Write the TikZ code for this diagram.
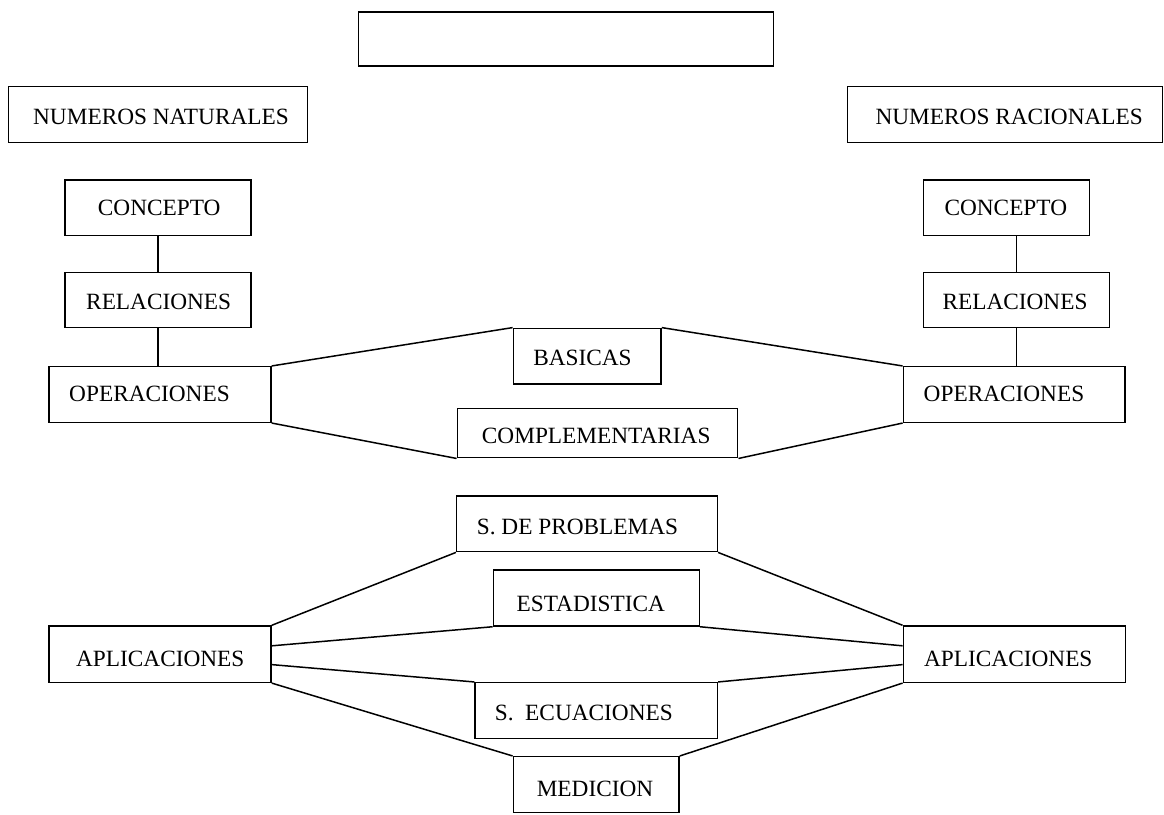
\documentclass[tikz,border=0pt]{standalone}
\usepackage{fontspec}
\setmainfont{Liberation Serif}
\usetikzlibrary{calc}
\tikzset{
  box/.style={draw, rectangle, line width=1.5pt, inner sep=0pt},
  lbl/.style={anchor=base, inner sep=0pt, font=\fontsize{23.3}{28}\selectfont},
  link/.style={line width=1.5pt}
}
\begin{document}
\begin{tikzpicture}[x=1pt, y=-1pt]
  \useasboundingbox (0,0) rectangle (1164,814);
  % title box (left blank)
  \node[box, minimum width=414.6, minimum height=54] (top) at (566,39) {};
  % column headings
  \node[box, minimum width=299, minimum height=55.6] (nn) at (158.2,114.5) {};
  \node[lbl] (nn-t) at (161,124.5) {NUMEROS NATURALES};
  \node[box, minimum width=315, minimum height=55.6] (nr) at (1004.8,114.5) {};
  \node[lbl] (nr-t) at (1009.2,124.5) {NUMEROS RACIONALES};
  % natural numbers column
  \node[box, minimum width=186, minimum height=55.7] (cL) at (158,207.8) {};
  \node[lbl] (cL-t) at (159.2,215.4) {CONCEPTO};
  \node[box, minimum width=186, minimum height=55.4] (rL) at (158,300) {};
  \node[lbl] (rL-t) at (158.7,309.4) {RELACIONES};
  \node[box, minimum width=222, minimum height=55.6] (oL) at (160,394.5) {};
  \node[lbl] (oL-t) at (149.5,401.7) {OPERACIONES};
  % rational numbers column
  \node[box, minimum width=166, minimum height=55.7] (cR) at (1006.3,207.8) {};
  \node[lbl] (cR-t) at (1005.8,215.4) {CONCEPTO};
  \node[box, minimum width=186, minimum height=55.4] (rR) at (1016.3,300) {};
  \node[lbl] (rR-t) at (1015,309.4) {RELACIONES};
  \node[box, minimum width=221.7, minimum height=55.6] (oR) at (1014.2,394.5) {};
  \node[lbl] (oR-t) at (1004,401.7) {OPERACIONES};
  % kinds of operations
  \node[box, minimum width=147.7, minimum height=55.7] (bas) at (587.2,356.2) {};
  \node[lbl] (bas-t) at (582.5,365.4) {BASICAS};
  \node[box, minimum width=280.4, minimum height=49.4] (comp) at (597.5,433) {};
  \node[lbl] (comp-t) at (596.2,443.4) {COMPLEMENTARIAS};
  % applications
  \node[box, minimum width=222, minimum height=56.3] (aL) at (160,654.2) {};
  \node[lbl] (aL-t) at (160.3,666.7) {APLICACIONES};
  \node[box, minimum width=222.4, minimum height=56.3] (aR) at (1014.5,654.2) {};
  \node[lbl] (aR-t) at (1008.3,666.7) {APLICACIONES};
  \node[box, minimum width=260.6, minimum height=55.7] (sdp) at (587,523.8) {};
  \node[lbl] (sdp-t) at (577.5,534.4) {S. DE PROBLEMAS};
  \node[box, minimum width=206, minimum height=56] (est) at (596.3,598) {};
  \node[lbl] (est-t) at (590.8,611.1) {ESTADISTICA};
  \node[box, minimum width=242.3, minimum height=55.6] (sec) at (596.2,710.5) {};
  \node[lbl] (sec-t) at (583.8,720.1) {S.\ \ ECUACIONES};
  \node[box, minimum width=165.7, minimum height=56] (med) at (596.2,784.7) {};
  \node[lbl] (med-t) at (595,796.1) {MEDICION};

  % attachment points on the sides of the application boxes
  \coordinate (aL1) at ($(aL.north east)!0.355!(aL.south east)$);
  \coordinate (aL2) at ($(aL.north east)!0.68!(aL.south east)$);
  \coordinate (aR1) at ($(aR.north west)!0.355!(aR.south west)$);
  \coordinate (aR2) at ($(aR.north west)!0.68!(aR.south west)$);

  % vertical links in each column
  \draw[link] (cL.south) -- (rL.north);
  \draw[link] (rL.south) -- (rL.south |- oL.north);
  \draw[link] (rR.north) -- (rR.north |- cR.south);
  \draw[link] (rR.south) -- (rR.south |- oR.north);

  % operations
  \draw[link] (oL.north east) -- (bas.north west);
  \draw[link] (oL.south east) -- (comp.south west);
  \draw[link] (bas.north east) -- (oR.north west);
  \draw[link] (comp.south east) -- (oR.south west);

  % applications
  \draw[link] (aL.north east) -- (sdp.south west);
  \draw[link] (aL1) -- (est.south west);
  \draw[link] (aL2) -- (sec.north west);
  \draw[link] (aL.south east) -- (med.north west);
  \draw[link] (sdp.south east) -- (aR.north west);
  \draw[link] (est.south east) -- (aR1);
  \draw[link] (sec.north east) -- (aR2);
  \draw[link] (med.north east) -- (aR.south west);
\end{tikzpicture}
\end{document}
